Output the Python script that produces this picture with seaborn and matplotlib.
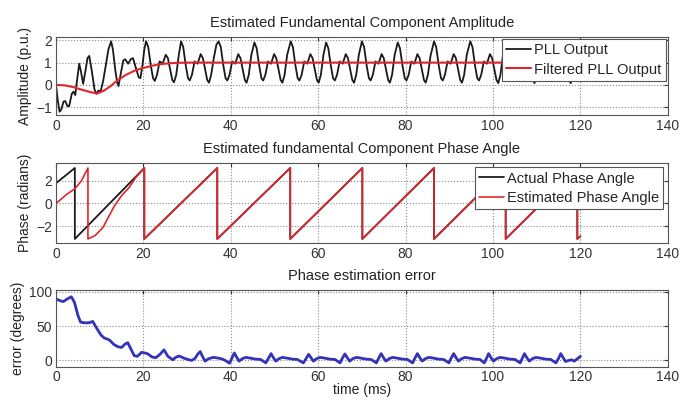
import matplotlib
matplotlib.use("Agg")
import matplotlib.pyplot as plt
import seaborn as sns
import pandas as pd
from matplotlib.lines import Line2D

# ---------------- data ----------------
pll_t = [0.0, 0.4, 0.8, 1.2, 1.7, 2.1, 2.6, 3.0, 3.6, 4.0, 4.4, 4.8, 5.3, 5.7, 6.2, 6.7, 7.2, 7.6,
         8.2, 8.8, 9.2, 9.7, 10.2, 10.8, 11.4, 12.0, 12.6, 13.0, 13.6, 14.0, 14.3, 14.8, 15.4,
         15.8, 16.5, 17.1, 17.6, 18.2, 18.9, 19.3, 19.8, 20.2,
         20.6, 21.1, 21.7, 22.2, 22.6, 23.1, 23.7, 24.4, 25.1, 25.6, 26.2, 26.6, 27.0, 27.5, 28.1,
         28.6, 29.1, 29.7, 30.2, 30.6, 31.1, 31.7, 32.4, 33.1, 33.6, 34.2, 34.6, 35.0, 35.5, 36.1, 36.7,
         37.2, 37.7, 38.3, 38.8, 39.2, 39.7, 40.3, 41.0, 41.7, 42.2, 42.8, 43.2, 43.6, 44.1, 44.7,
         45.4, 45.9, 46.5, 47.0, 47.4, 47.9, 48.5, 49.2, 49.9, 50.4, 51.0, 51.4, 51.8, 52.3, 52.9,
         53.7, 54.2, 54.8, 55.3, 55.7, 56.2, 56.8, 57.5, 58.2, 58.7, 59.3, 59.7, 60.1, 60.6, 61.2,
         61.8, 62.3, 62.9, 63.4, 63.8, 64.3, 64.9, 65.6, 66.3, 66.8, 67.4, 67.8, 68.2, 68.7, 69.3,
         70.0, 70.5, 71.1, 71.6, 72.0, 72.5, 73.1, 73.8, 74.5, 75.0, 75.6, 76.0, 76.4, 76.9, 77.5,
         78.2, 78.7, 79.3, 79.8, 80.2, 80.7, 81.3, 82.0, 82.7, 83.2, 83.8, 84.2, 84.6, 85.1, 85.7,
         86.5, 87.0, 87.6, 88.1, 88.5, 89.0, 89.6, 90.3, 91.0, 91.5, 92.1, 92.5, 92.9, 93.4, 94.0,
         94.8, 95.3, 95.9, 96.4, 96.8, 97.3, 97.9, 98.6, 99.3, 99.8, 100.4, 100.8, 101.2, 101.7, 102.3,
         103.1, 103.6, 104.2, 104.7, 105.1, 105.6, 106.2, 106.9, 107.6, 108.1, 108.7, 109.1, 109.5, 110.0, 110.6,
         111.4, 111.9, 112.5, 113.0, 113.4, 113.9, 114.5, 115.2, 115.9, 116.4, 117.0, 117.4, 117.8, 118.3, 118.9,
         119.7, 120.0]
pll_v = [0.0, -0.7, -1.2, -1.1, -0.75, -0.72, -0.95, -0.95, -0.4, -0.3, -0.45, 0.2, 0.95, 0.6, 0.05, 0.6, 1.2, 1.3,
         0.6, -0.2, -0.4, -0.25, -0.3, 0.2, 0.9, 1.6, 1.95, 1.6, 0.6, 0.1, -0.05, 0.5, 1.1,
         1.15, 0.95, 1.15, 1.2, 0.8, 0.35, 0.3, 0.9, 1.6,
         1.95, 1.7, 0.85, 0.3, 0.18, 0.45, 1.05, 0.95, 1.35, 1.2, 0.6, 0.22, 0.12, 0.45, 1.35,
         1.95, 1.7, 0.85, 0.3, 0.2, 0.45, 1.05, 0.95, 1.38, 1.2, 0.6, 0.22, 0.1, 0.45, 1.2, 1.8,
         1.95, 1.7, 0.85, 0.3, 0.2, 0.45, 1.05, 0.95, 1.38, 1.2, 0.6, 0.22, 0.1, 0.45, 1.35,
         1.9, 1.65, 0.85, 0.3, 0.2, 0.45, 1.05, 0.95, 1.38, 1.2, 0.6, 0.22, 0.1, 0.45, 1.35,
         1.95, 1.7, 0.85, 0.3, 0.2, 0.45, 1.05, 0.95, 1.38, 1.2, 0.6, 0.22, 0.1, 0.45, 1.35,
         1.9, 1.65, 0.85, 0.3, 0.2, 0.45, 1.05, 0.95, 1.38, 1.2, 0.6, 0.22, 0.1, 0.45, 1.35,
         1.95, 1.7, 0.85, 0.3, 0.2, 0.45, 1.05, 0.95, 1.38, 1.2, 0.6, 0.22, 0.1, 0.45, 1.35,
         1.9, 1.65, 0.85, 0.3, 0.2, 0.45, 1.05, 0.95, 1.38, 1.2, 0.6, 0.22, 0.1, 0.45, 1.3,
         1.95, 1.7, 0.85, 0.3, 0.2, 0.45, 1.05, 0.95, 1.38, 1.2, 0.6, 0.22, 0.1, 0.45, 1.35,
         1.95, 1.7, 0.85, 0.3, 0.2, 0.45, 1.05, 0.95, 1.38, 1.2, 0.6, 0.22, 0.08, 0.45, 1.35,
         1.9, 1.65, 0.85, 0.35, 0.25, 0.5, 1.05, 0.95, 1.38, 1.2, 0.6, 0.22, 0.08, 0.45, 1.35,
         1.9, 1.65, 0.85, 0.35, 0.25, 0.5, 1.05, 0.95, 1.38, 1.2, 0.6, 0.22, 0.08, 0.45, 1.35,
         1.9, 1.8]

filt_t = [0, 2, 4, 6, 8, 9.5, 11, 12.5, 14, 16, 18, 20, 22, 24, 26, 28, 30, 40, 60, 80, 100, 120]
filt_v = [0.0, -0.02, -0.1, -0.22, -0.33, -0.38, -0.25, -0.05, 0.2, 0.45, 0.64, 0.76, 0.86, 0.93,
          0.97, 0.99, 1.0, 1.0, 1.0, 1.0, 1.0, 1.0]

act_t = [0, 4.3, 4.3, 20.2, 20.2, 36.9, 36.9, 53.6, 53.6, 70.1, 70.1, 86.5, 86.5,
         102.9, 102.9, 119.3, 119.3, 120]
act_v = [1.8, 3.14, -3.14, 3.14, -3.14, 3.14, -3.14, 3.14, -3.14, 3.14, -3.14, 3.14, -3.14,
         3.14, -3.14, 3.14, -3.14, -2.9]

est_t = [0, 2.4, 4.3, 5.8, 7.3, 7.3, 8.9, 10.7, 12.0, 13.3, 15.0, 16.7, 18.2, 20.2, 20.2,
         36.9, 36.9, 53.6, 53.6, 70.1, 70.1, 86.5, 86.5, 102.9, 102.9, 119.3, 119.3, 120]
est_v = [0.0, 0.8, 1.3, 2.0, 3.14, -3.14, -2.85, -2.15, -1.2, -0.25, 0.7, 1.4, 2.28, 3.14, -3.14,
         3.14, -3.14, 3.14, -3.14, 3.14, -3.14, 3.14, -3.14, 3.14, -3.14, 3.14, -3.14, -2.9]

err_t = [0, 1.0, 1.7, 2.6, 3.5, 4.2, 5.0, 5.6, 6.5, 7.5, 8.4, 9.3, 10.3, 11.0, 12.2, 13.3, 14.2,
         15.0, 15.8, 16.4, 17.1, 17.9, 18.6, 19.6, 20.3, 20.9, 22.0, 22.8, 23.8, 24.7, 25.6, 26.7,
         27.5, 28.2, 29.4, 31.0, 31.8, 32.4,
         33.0, 33.5, 34.1, 34.9, 36.0, 37.1, 38.1, 39.0, 39.7, 40.3,
         40.8, 41.4, 41.9, 42.6, 43.4, 44.4, 45.6, 46.8, 47.4, 48.0, 48.6,
         49.2, 49.8, 50.3, 51.0, 51.8, 52.8, 54.0, 55.2, 55.9, 56.6, 57.2,
         57.8, 58.4, 58.9, 59.6, 60.4, 61.4, 62.6, 63.8, 64.4, 65.0, 65.5,
         66.1, 66.7, 67.2, 67.9, 68.7, 69.7, 70.9, 72.1, 72.7, 73.3, 73.8,
         74.4, 75.0, 75.5, 76.2, 77.0, 78.0, 79.2, 80.4, 81.0, 81.6, 82.1,
         82.7, 83.3, 83.8, 84.5, 85.3, 86.3, 87.5, 88.7, 89.3, 89.9, 90.4,
         91.0, 91.6, 92.1, 92.8, 93.6, 94.6, 95.8, 97.0, 97.5, 98.0, 98.5,
         99.0, 99.6, 100.1, 100.8, 101.6, 102.6, 103.8, 105.0, 105.6, 106.2, 106.7,
         107.2, 107.8, 108.3, 109.0, 109.8, 110.8, 112.0, 113.2, 113.8, 114.4, 115.0,
         115.5, 116.1, 116.6, 117.3, 118.0, 118.6, 119.3, 120.0]
err_v = [90, 87, 86, 90, 93, 85, 66, 56, 55, 55, 57, 47, 37, 33, 30, 23, 20,
         19, 24, 26, 17, 7, 6, 12, 11, 10, 5, 4, 9, 15.5, 6, 1,
         5, 6.5, 3, 0, 3, 9,
         13, 6, -1, 2.5, 4.5, 3.5, 2, -1, -4, 4,
         11, 4, -1, 2.5, 4.5, 3.5, 2, 1.5, -1, -3.5, 3,
         10, 3.5, -1, 2.5, 4.5, 3.5, 2, 1.5, -1, -3.5, 2.5,
         9, 3.5, -1, 2.5, 4.5, 3.5, 2, 1.5, -1, -3.5, 3,
         9.5, 3.5, -1, 2.5, 4.5, 3.5, 2, 1.5, -1, -3.5, 3,
         10, 3.5, -1, 2.5, 4.5, 3.5, 2, 1.5, -1, -3.5, 3,
         10, 3.5, -1, 2.5, 4.5, 3.5, 2, 1.5, -1, -3.5, 3,
         10, 3.5, -1, 2.5, 4.5, 3.5, 2, 1.5, -1, -3.5, 3,
         10, 3.5, -1, 2.5, 4.5, 3.5, 2, 1.5, -1, -3.5, 3,
         10, 3.5, -1, 2.5, 4.5, 3.5, 2, 1.5, -1, -3.5, 3,
         10, 3.5, -1.5, 0, 1, -1, 2.5, 6]

x_ticks = [0, 20, 40, 60, 80, 100, 120, 140]

# ---------------- style ----------------
sns.set_style("white")
plt.rcParams['font.family'] = ['Liberation Sans', 'DejaVu Sans']
plt.rcParams['font.size'] = 10

fig = plt.figure(figsize=(6.92, 4.01), dpi=100)
ax1 = fig.add_axes([0.081, 0.713, 0.884, 0.195])
ax2 = fig.add_axes([0.081, 0.394, 0.884, 0.200])
ax3 = fig.add_axes([0.081, 0.084, 0.884, 0.193])

BLACK = '#1a1a1a'
RED = '#e0262a'
BLUE = '#3333b8'

df_pll = pd.DataFrame({'t': pll_t, 'v': pll_v})
df_filt = pd.DataFrame({'t': filt_t, 'v': filt_v})
df_act = pd.DataFrame({'t': act_t, 'v': act_v})
df_est = pd.DataFrame({'t': est_t, 'v': est_v})
df_err = pd.DataFrame({'t': err_t, 'v': err_v})

sns.lineplot(data=df_pll, x='t', y='v', ax=ax1, color=BLACK, lw=1.3, sort=False, estimator=None)
sns.lineplot(data=df_filt, x='t', y='v', ax=ax1, color=RED, lw=1.5, sort=False, estimator=None)
sns.lineplot(data=df_act, x='t', y='v', ax=ax2, color=BLACK, lw=1.3, sort=False, estimator=None)
sns.lineplot(data=df_est, x='t', y='v', ax=ax2, color=RED, lw=1.2, sort=False, estimator=None)
sns.lineplot(data=df_err, x='t', y='v', ax=ax3, color=BLUE, lw=2.0, sort=False, estimator=None)

def style(ax, ylim, yticks, title, ylabel):
    ax.set_xlim(0, 140)
    ax.set_ylim(*ylim)
    ax.set_xticks(x_ticks)
    ax.set_yticks(yticks)
    ax.set_title(title, fontsize=10.5, pad=7, color='#222222')
    ax.set_ylabel(ylabel, fontsize=10, color='#222222', labelpad=3)
    ax.set_xlabel('')
    ax.grid(True, linestyle=':', color='#8a8a8a', linewidth=0.8)
    ax.tick_params(direction='in', length=3, top=True, right=True, labelsize=10,
                   colors='#333333', pad=3)
    for s in ax.spines.values():
        s.set_color('#555555')
        s.set_linewidth(0.8)

style(ax1, (-1.35, 2.15), [-1, 0, 1, 2], 'Estimated Fundamental Component Amplitude', 'Amplitude (p.u.)')
style(ax2, (-3.5, 3.6), [-2, 0, 2], 'Estimated fundamental Component Phase Angle', 'Phase (radians)')
style(ax3, (-10, 103), [0, 50, 100], 'Phase estimation error', 'error (degrees)')
ax3.tick_params(axis='x', pad=2)
ax3.set_xlabel('time (ms)', fontsize=10, labelpad=-1, color='#222222')

h1 = [Line2D([], [], color=BLACK, lw=1.3), Line2D([], [], color=RED, lw=1.5)]
leg1 = ax1.legend(h1, ['PLL Output', 'Filtered PLL Output'], loc='upper right',
                  frameon=True, fancybox=False, framealpha=1, edgecolor='#555555',
                  borderaxespad=0.15, handlelength=1.7, handletextpad=0.2,
                  labelspacing=0.35, borderpad=0.3, fontsize=10.5)
leg1.get_frame().set_linewidth(0.8)

h2 = [Line2D([], [], color=BLACK, lw=1.3), Line2D([], [], color=RED, lw=1.2)]
leg2 = ax2.legend(h2, ['Actual Phase Angle', 'Estimated Phase Angle'], loc='upper right',
                  frameon=True, fancybox=False, framealpha=1, edgecolor='#555555',
                  borderaxespad=0.3, handlelength=1.7, handletextpad=0.2,
                  labelspacing=0.35, borderpad=0.3, fontsize=10.5)
leg2.get_frame().set_linewidth(0.8)

fig.savefig('out.png', dpi=100)
